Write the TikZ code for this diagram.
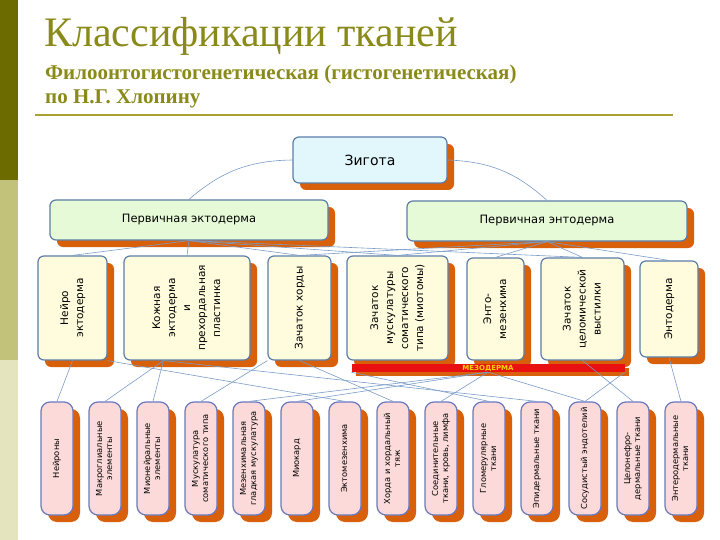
\documentclass[tikz,border=0pt]{standalone}
\usepackage{fontspec}
\setmainfont{Liberation Serif}
\newfontfamily\boxfont{DejaVu Sans}
\usetikzlibrary{positioning,shadows}
\definecolor{olivedark}{HTML}{6B6B00}
\definecolor{olivemid}{HTML}{C2C27A}
\definecolor{olivelight}{HTML}{E4E4BE}
\definecolor{titlecol}{HTML}{8A8A1A}
\definecolor{rulecol}{HTML}{A8A232}
\definecolor{edgecol}{HTML}{5B7DA8}
\definecolor{pinkedge}{HTML}{6A78C0}
\definecolor{shadowcol}{HTML}{D8600A}
\definecolor{zygfill}{HTML}{E2F7FC}
\definecolor{greenfill}{HTML}{E6FAD8}
\definecolor{yellowfill}{HTML}{FEFCDC}
\definecolor{pinkfill}{HTML}{FCDADA}
\definecolor{linkcol}{HTML}{7A9CC8}
\definecolor{barred}{HTML}{E81010}
\newcommand{\vtext}[1]{\rotatebox{90}{\begin{tabular}{@{}c@{}}#1\end{tabular}}}
\tikzset {
  every node/.style={font=\boxfont},
  tissue/.style={draw=edgecol, line width=1.2pt, rounded corners=6pt, inner sep=0pt,
    drop shadow={fill=shadowcol, opacity=1, shadow xshift=7pt, shadow yshift=-7pt}},
  zygbox/.style={tissue, fill=zygfill, font=\boxfont\fontsize{14}{16}\selectfont},
  germbox/.style={tissue, fill=greenfill, font=\boxfont\fontsize{11.5}{13}\selectfont},
  rudbox/.style={tissue, fill=yellowfill, minimum height=104pt,
    font=\boxfont\fontsize{10.5}{15}\selectfont},
  finbox/.style={tissue, draw=pinkedge, fill=pinkfill, rounded corners=9pt,
    minimum width=32pt, minimum height=113pt, font=\boxfont\fontsize{8.3}{10}\selectfont},
  link/.style={draw=linkcol, line width=0.6pt},
}

\begin{document}
\begin{tikzpicture}[x=1pt,y=-1pt]
  \useasboundingbox (0,0) rectangle (720,540);
  % side strip
  \fill[olivedark] (0,0) rectangle (18,180);
  \fill[olivemid] (0,180) rectangle (18,360);
  \fill[olivelight] (0,360) rectangle (18,540);
  % heading
  \node[anchor=base west, font=\fontsize{42}{44}\selectfont, text=titlecol, inner sep=0pt]
    (title) at (44,47) {Классификации тканей};
  \node[anchor=base west, font=\bfseries\fontsize{21}{24}\selectfont, text=titlecol, inner sep=0pt]
    (sub1) at (45,80) {Филоонтогистогенетическая (гистогенетическая)};
  \node[anchor=base west, font=\bfseries\fontsize{21}{24}\selectfont, text=titlecol, inner sep=0pt]
    (sub2) at (45,104) {по Н.Г. Хлопину};
  \draw[rulecol, line width=1.5pt] (35,115) -- (673,115);

  % top levels
  \node[zygbox, minimum width=154pt, minimum height=46pt] (zyg) at (370,160) {Зигота};
  \node[germbox, minimum width=278pt, minimum height=40pt] (ecto) at (189,220) {Первичная эктодерма};
  \node[germbox, minimum width=280pt, minimum height=40pt] (ento) at (547,221) {Первичная энтодерма};

  % rudiments
  \node[rudbox, minimum width=69pt] (neuro) at (72.5,308) {\vtext{Нейро\\эктодерма}};
  \node[rudbox, minimum width=126pt] (skin) at (187,308) {\vtext{Кожная\\эктодерма\\и\\прехордальная\\пластинка}};
  \node[rudbox, minimum width=63pt] (chord) at (299.5,308) {\vtext{Зачаток хорды}};
  \node[rudbox, minimum width=101pt] (somit) at (397.5,308) {\vtext{Зачаток\\мускулатуры\\соматического\\типа (миотомы)}};
  \node[rudbox, minimum width=57pt, minimum height=102pt] (entmes) at (495.5,309) {\vtext{Энто-\\мезенхима}};
  \node[rudbox, minimum width=83pt, minimum height=102pt] (coel) at (582.5,309) {\vtext{Зачаток\\целомической\\выстилки}};
  \node[rudbox, minimum width=58pt, minimum height=96pt] (endo) at (669,309) {\vtext{Энтодерма}};

  % mesoderm bar
  \node[fill=barred, minimum width=273pt, minimum height=8pt, inner sep=0pt,
    drop shadow={fill=shadowcol, opacity=1, shadow xshift=4pt, shadow yshift=-4pt},
    text=yellow!70!orange, font=\boxfont\bfseries\fontsize{7}{7}\selectfont] (meso) at (488,368) {МЕЗОДЕРМА};

  % final tissues
  \foreach \i/\txt in {1/Нейроны, 2/Макроглиальные\\элементы, 3/Мионейральные\\элементы,
      4/Мускулатура\\соматического типа, 5/Мезенхимальная\\гладкая мускулатура, 6/Миокард,
      7/Эктомезенхима, 8/Хорда и хордальный\\тяж, 9/{Соединительные\\ткани, кровь, лимфа},
      10/Гломерулярные\\ткани, 11/Эпидермальные ткани, 12/Сосудистый эндотелий,
      13/Целонефро-\\дермальные ткани, 14/Энтеродермальные\\ткани}
    \node[finbox] (t\i) at ({57+48*(\i-1)},458.5) {\vtext{\txt}};

  % links
  \draw[link] (zyg.west) to[bend right=20] (ecto.north);
  \draw[link] (zyg.east) to[bend left=20] (ento.north);
  \foreach \m in {neuro,skin,chord,somit}
    \draw[link] (ecto.south) -- (\m.north);
  \foreach \m in {entmes,coel,endo,chord,somit}
    \draw[link] (ento.south) -- (\m.north);
  \draw[link] (ecto.south) -- (coel.north);
  \draw[link] (neuro.south) -- (t1.north);
  \draw[link] (skin.south west) ++(40pt,0) coordinate (skinhub);
  \foreach \t in {2,3,11}
    \draw[link] (skinhub) -- (t\t.north);
  \draw[link] (neuro.south east) -- (t7.north);
  \draw[link] (chord.south) -- (t8.north);
  \draw[link] (chord.south west) -- (t4.north);
  \foreach \t in {5,6,9,12}
    \draw[link] (meso.south) -- (t\t.north);
  \draw[link] (meso.south west) -- (t10.north);
  \draw[link] (coel.south) -- (t13.north);
  \draw[link] (meso.south east) -- (t12.north);
  \draw[link] (endo.south) -- (t14.north);
\end{tikzpicture}
\end{document}
